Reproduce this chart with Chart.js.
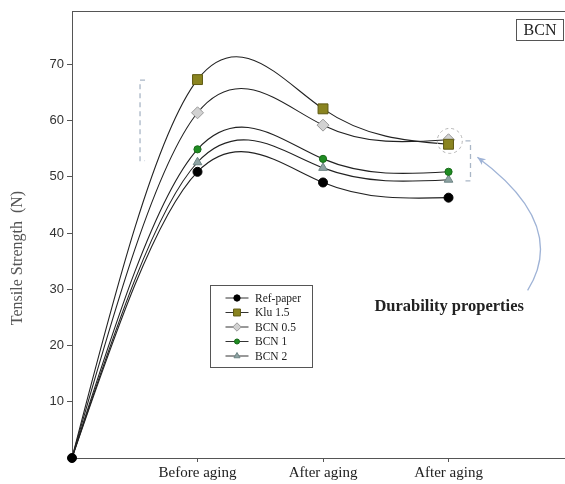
<!DOCTYPE html>
<html>
<head>
<meta charset="utf-8">
<script src="https://cdn.jsdelivr.net/npm/chart.js@4"></script>
<style>
  html, body { margin: 0; padding: 0; background: #fff; }
  #wrap { width: 565px; height: 484px; position: relative; }
</style>
</head>
<body>
<div id="wrap"><canvas id="c"></canvas></div>
<script>
// x positions: 0 = origin, then the three stages
const xPos = [0, 1, 2, 3];
const xLabels = ['', 'Before aging', 'After aging', 'After aging'];

const refPaper = [0, 50.9, 49.0, 46.3];
const klu15    = [0, 67.3, 62.1, 55.8];
const bcn05    = [0, 61.4, 59.2, 56.6];
const bcn1     = [0, 54.9, 53.2, 50.9];
const bcn2     = [0, 52.6, 51.6, 49.5];

const seriesNames = ['Ref-paper', 'Klu 1.5', 'BCN 0.5', 'BCN 1', 'BCN 2'];

const toPts = arr => arr.map((v, i) => ({ x: xPos[i], y: v }));

// only the black marker is visible at the shared origin
function ds(label, values, style, radius, bg, border, showOrigin) {
    return {
        label: label,
        data: toPts(values),
        borderColor: '#222',
        borderWidth: 1.1,
        tension: 0.4,
        clip: false,
        pointStyle: style,
        legendRadius: radius,
        pointRadius: values.map((v, i) => (i === 0 && !showOrigin) ? 0 : radius),
        pointBackgroundColor: bg,
        pointBorderColor: border,
        pointBorderWidth: 1,
        fill: false
    };
}

// natural cubic spline: slopes at the knots t for values v
function splineSlopes(t, v) {
    const n = t.length;
    const h = [];
    for (let i = 0; i < n - 1; i++) h.push(t[i + 1] - t[i]);
    const M = new Array(n).fill(0);
    const a = [], b = [], c = [], r = [];
    for (let i = 1; i < n - 1; i++) {
        a.push(h[i - 1]);
        b.push(2 * (h[i - 1] + h[i]));
        c.push(h[i]);
        r.push(6 * ((v[i + 1] - v[i]) / h[i] - (v[i] - v[i - 1]) / h[i - 1]));
    }
    const m = b.length;
    for (let i = 1; i < m; i++) {
        const w = a[i] / b[i - 1];
        b[i] -= w * c[i - 1];
        r[i] -= w * r[i - 1];
    }
    const sol = new Array(m);
    for (let i = m - 1; i >= 0; i--) {
        sol[i] = (r[i] - (i < m - 1 ? c[i] * sol[i + 1] : 0)) / b[i];
    }
    for (let i = 0; i < m; i++) M[i + 1] = sol[i];
    const out = [], inn = [];
    for (let i = 0; i < n - 1; i++) {
        const sl = (v[i + 1] - v[i]) / h[i];
        out.push(sl - h[i] * (2 * M[i] + M[i + 1]) / 6);
        inn.push(sl + h[i] * (M[i] + 2 * M[i + 1]) / 6);
    }
    return { h, out, inn };
}

// replace the default bezier control points with a natural spline y(x)
const splinePlugin = {
    id: 'splinePlugin',
    beforeDatasetsDraw(chart) {
        chart.data.datasets.forEach((d, di) => {
            const meta = chart.getDatasetMeta(di);
            const pts = meta.data;
            meta.dataset.updateControlPoints(chart.chartArea, 'x');
            const xs = pts.map(p => p.x), ys = pts.map(p => p.y);
            const s = splineSlopes(xs, ys);
            for (let i = 0; i < pts.length - 1; i++) {
                const k = s.h[i] / 3;
                pts[i].cp2x = xs[i] + k;
                pts[i].cp2y = ys[i] + s.out[i] * k;
                pts[i + 1].cp1x = xs[i + 1] - k;
                pts[i + 1].cp1y = ys[i + 1] - s.inn[i] * k;
            }
        });
    }
};

// annotations, frame, axis title and the boxed legend
const extras = {
    id: 'extras',
    afterDatasetsDraw(chart) {
        const { ctx, scales: { x, y }, chartArea } = chart;
        ctx.save();

        // top frame line
        ctx.strokeStyle = '#555';
        ctx.lineWidth = 1;
        ctx.beginPath();
        ctx.moveTo(chartArea.left, chartArea.top + 0.5);
        ctx.lineTo(chart.width, chartArea.top + 0.5);
        ctx.stroke();

        // y axis title
        ctx.save();
        ctx.translate(18, 258);
        ctx.rotate(-Math.PI / 2);
        ctx.fillStyle = '#555';
        ctx.font = '16px "Liberation Serif", serif';
        ctx.textAlign = 'center';
        ctx.textBaseline = 'middle';
        ctx.fillText('Tensile Strength  (N)', 0, 0);
        ctx.restore();

        // dashed brackets
        ctx.strokeStyle = '#a9b6c6';
        ctx.lineWidth = 1.3;
        ctx.setLineDash([5, 4]);
        let bx = x.getPixelForValue(0.542);
        let t = y.getPixelForValue(67.2), b = y.getPixelForValue(52.9);
        ctx.beginPath();
        ctx.moveTo(bx + 5, t); ctx.lineTo(bx, t); ctx.lineTo(bx, b); ctx.lineTo(bx + 5, b);
        ctx.stroke();
        bx = x.getPixelForValue(3.175);
        t = y.getPixelForValue(56.4); b = y.getPixelForValue(49.3);
        ctx.beginPath();
        ctx.moveTo(bx - 5, t); ctx.lineTo(bx, t); ctx.lineTo(bx, b); ctx.lineTo(bx - 5, b);
        ctx.stroke();

        // dashed circle round the overlapping end points
        ctx.strokeStyle = '#b5b5b5';
        ctx.lineWidth = 1;
        ctx.setLineDash([3, 3]);
        ctx.beginPath();
        ctx.arc(x.getPixelForValue(3.01), y.getPixelForValue(56.4), 12.5, 0, Math.PI * 2);
        ctx.stroke();
        ctx.setLineDash([]);

        // curved arrow
        const sx = x.getPixelForValue(3.63), sy = y.getPixelForValue(29.8);
        const ex = x.getPixelForValue(3.23), ey = y.getPixelForValue(53.5);
        const cx = x.getPixelForValue(3.96), cy = y.getPixelForValue(41.5);
        ctx.strokeStyle = '#9fb3d6';
        ctx.lineWidth = 1.3;
        ctx.beginPath();
        ctx.moveTo(sx, sy);
        ctx.quadraticCurveTo(cx, cy, ex, ey);
        ctx.stroke();
        const ang = Math.atan2(ey - cy, ex - cx);
        ctx.fillStyle = '#9fb3d6';
        ctx.beginPath();
        ctx.moveTo(ex, ey);
        ctx.lineTo(ex - 9 * Math.cos(ang - 0.4), ey - 9 * Math.sin(ang - 0.4));
        ctx.lineTo(ex - 6 * Math.cos(ang), ey - 6 * Math.sin(ang));
        ctx.lineTo(ex - 9 * Math.cos(ang + 0.4), ey - 9 * Math.sin(ang + 0.4));
        ctx.closePath();
        ctx.fill();

        // text label
        ctx.fillStyle = '#222';
        ctx.font = 'bold 16.5px "Liberation Serif", serif';
        ctx.textAlign = 'center';
        ctx.textBaseline = 'middle';
        ctx.fillText('Durability properties', x.getPixelForValue(3.005), y.getPixelForValue(26.9));

        // BCN box
        ctx.strokeStyle = '#555';
        ctx.lineWidth = 1;
        ctx.strokeRect(516.5, 19.5, 47, 21);
        ctx.font = '16px "Liberation Serif", serif';
        ctx.fillText('BCN', 540, 30.5);

        // legend
        const lx = 210.5, ly = 285.5, lw = 102, lh = 82;
        ctx.fillStyle = '#fff';
        ctx.fillRect(lx, ly, lw, lh);
        ctx.strokeStyle = '#555';
        ctx.strokeRect(lx, ly, lw, lh);
        ctx.font = '11.5px "Liberation Serif", serif';
        ctx.textAlign = 'left';
        chart.data.datasets.forEach((d, i) => {
            const ry = ly + 12.5 + i * 14.5;
            ctx.strokeStyle = '#333';
            ctx.lineWidth = 1;
            ctx.beginPath();
            ctx.moveTo(lx + 15, ry); ctx.lineTo(lx + 38, ry);
            ctx.stroke();
            ctx.fillStyle = d.pointBackgroundColor;
            ctx.strokeStyle = d.pointBorderColor;
            Chart.helpers.drawPoint(ctx, {
                pointStyle: d.pointStyle,
                radius: d.legendRadius * 0.7,
                rotation: 0,
                borderWidth: 1
            }, lx + 26.5, ry);
            ctx.fillStyle = '#222';
            ctx.fillText(d.label, lx + 44.5, ry + 0.5);
        });
        ctx.restore();
    }
};

new Chart(document.getElementById('c'), {
    type: 'line',
    data: {
        datasets: [
            ds(seriesNames[0], refPaper, 'circle', 4.5, '#000', '#000', true),
            ds(seriesNames[1], klu15, 'rect', 7, '#8a8420', '#5f5a12', false),
            ds(seriesNames[2], bcn05, 'rectRot', 6, '#d2d2d2', '#9a9a9a', false),
            ds(seriesNames[3], bcn1, 'circle', 3.6, '#1f8c22', '#176a19', false),
            ds(seriesNames[4], bcn2, 'triangle', 5, '#8ea3a3', '#6d8484', false)
        ]
    },
    options: {
        responsive: true,
        maintainAspectRatio: false,
        animation: false,
        layout: { autoPadding: false, padding: { top: 11, right: 1, left: 10, bottom: 0 } },
        plugins: {
            legend: { display: false },
            tooltip: { enabled: false }
        },
        scales: {
            x: {
                type: 'linear',
                min: 0,
                max: 3.92,
                afterBuildTicks: s => { s.ticks = xPos.slice(1).map(v => ({ value: v })); },
                afterFit: s => { s.height = 26; s.paddingLeft = 0; s.paddingRight = 0; },
                ticks: {
                    callback: v => xLabels[v] || '',
                    color: '#222',
                    padding: 2,
                    maxRotation: 0,
                    font: { family: '"Liberation Serif", serif', size: 15 }
                },
                grid: { drawOnChartArea: false, tickLength: 4, color: '#555' },
                border: { color: '#555', width: 1 }
            },
            y: {
                min: 0,
                max: 79.5,
                afterBuildTicks: s => { s.ticks = s.ticks.filter(t => t.value > 0 && t.value % 10 === 0); },
                afterFit: s => { s.width = 62; s.paddingTop = 0; s.paddingBottom = 0; },
                ticks: {
                    stepSize: 10,
                    color: '#333',
                    padding: 3,
                    font: { family: '"Liberation Sans", Arial, sans-serif', size: 13 }
                },
                grid: { drawOnChartArea: false, tickLength: 5, color: '#555' },
                border: { color: '#555', width: 1 }
            }
        }
    },
    plugins: [splinePlugin, extras]
});
</script>
</body>
</html>
